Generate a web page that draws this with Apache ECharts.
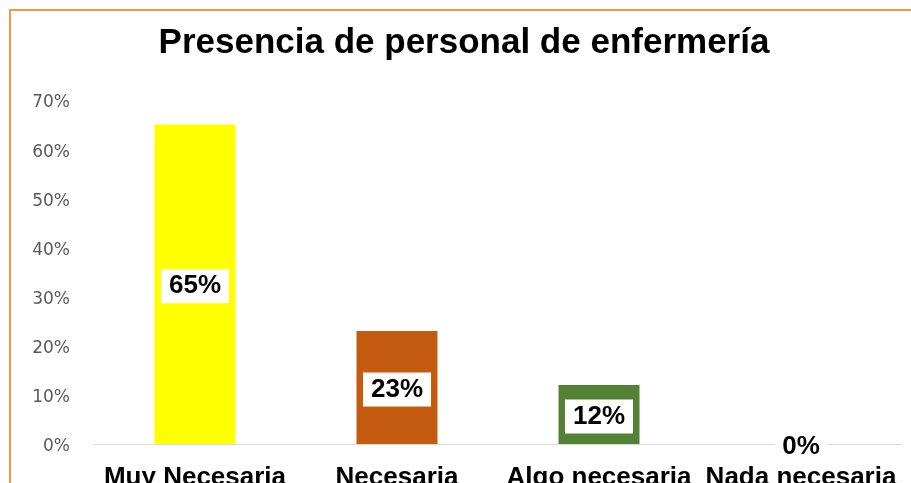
<!DOCTYPE html>
<html>
<head>
<meta charset="utf-8">
<script src="https://cdn.jsdelivr.net/npm/echarts@6/dist/echarts.min.js"></script>
<style>
html,body{margin:0;padding:0;background:#fff;}
#chart{width:911px;height:483px;}
</style>
</head>
<body>
<div id="chart"></div>
<script>
const titleText = 'Presencia de personal de enfermería';
const categories = ['Muy Necesaria', 'Necesaria', 'Algo necesaria', 'Nada necesaria'];
const values = [65, 23, 12, 0];
const barColors = ['#FFFF00', '#C55A11', '#548235', '#A5A5A5'];
const yMax = 70;
const yInterval = 10;

const chart = echarts.init(document.getElementById('chart'), null, {renderer: 'canvas'});
chart.setOption({
  animation: false,
  backgroundColor: '#ffffff',
  title: {
    text: titleText,
    left: 464,
    textAlign: 'center',
    top: 26,
    padding: 0,
    textStyle: {
      fontFamily: 'Liberation Sans, Arial, sans-serif',
      fontWeight: 'bold',
      fontSize: 35,
      color: '#000000'
    }
  },
  graphic: [{
    type: 'rect',
    shape: {x: 10, y: 10, width: 1200, height: 1200},
    style: {fill: 'none', stroke: '#F79646', lineWidth: 2},
    silent: true,
    z: 100
  }],
  grid: {left: 94, right: 9, top: 100, bottom: 39, containLabel: false, outerBoundsMode: 'none'},
  xAxis: {
    type: 'category',
    data: categories,
    axisLine: {show: true, lineStyle: {color: '#D9D9D9', width: 1}},
    axisTick: {show: false},
    axisLabel: {
      interval: 0,
      hideOverlap: false,
      margin: 21,
      fontFamily: 'Liberation Sans, Arial, sans-serif',
      fontWeight: 'bold',
      fontSize: 26,
      color: '#000000'
    }
  },
  yAxis: {
    type: 'value',
    min: 0,
    max: yMax,
    interval: yInterval,
    axisLine: {show: false},
    axisTick: {show: false},
    splitLine: {show: false},
    axisLabel: {
      formatter: '{value}%',
      margin: 24,
      verticalAlign: 'top',
      lineHeight: 6,
      fontFamily: 'DejaVu Sans, sans-serif',
      fontSize: 17,
      color: '#595959'
    }
  },
  series: [{
    type: 'bar',
    data: values.map((v, i) => ({
      value: v,
      itemStyle: {color: barColors[i]},
      label: v === 0 ? {offset: [0, 3], padding: [3, 7, 3, 7]} : undefined
    })),
    barWidth: 81,
    label: {
      show: true,
      position: 'inside',
      formatter: '{c}%',
      offset: [0, 2],
      fontFamily: 'Liberation Sans, Arial, sans-serif',
      fontWeight: 'bold',
      fontSize: 26,
      color: '#000000',
      backgroundColor: '#ffffff',
      padding: [4, 8, 4, 8]
    },
    z: 3
  }]
});
</script>
</body>
</html>
